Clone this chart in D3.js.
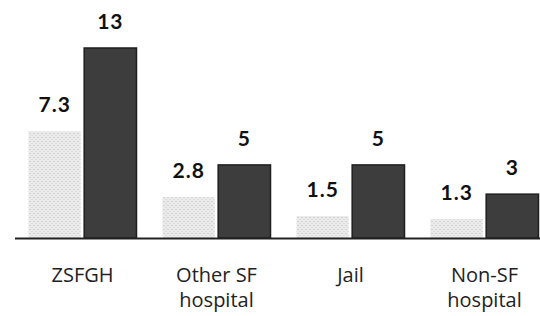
<!DOCTYPE html>
<html><head><meta charset="utf-8">
<script src="https://cdn.jsdelivr.net/npm/d3@7"></script>
<style>body{margin:0;background:#fff}svg{display:block}</style>
</head><body>
<svg id="c" width="540" height="316"></svg>
<script>
const categories = ["ZSFGH", "Other SF|hospital", "Jail", "Non-SF|hospital"];
const seriesNames = ["before", "after"];
const seriesA = [7.3, 2.8, 1.5, 1.3];
const seriesB = [13, 5, 5, 3];
const labelsA = ["7.3", "2.8", "1.5", "1.3"];
const labelsB = ["13", "5", "5", "3"];

const svg = d3.select("#c");
const baseY = 238;
const x0 = d3.scaleBand().domain(categories).range([15.5, 551.5]).paddingInner(0.194).paddingOuter(0.097);
const x1 = d3.scaleBand().domain(seriesNames).range([0, x0.bandwidth()]).paddingInner(0.06);
const y = d3.scaleLinear().domain([0, 13]).range([baseY, 48]);

const defs = svg.append("defs");
const pat = defs.append("pattern").attr("id","lt").attr("patternUnits","userSpaceOnUse").attr("width",4).attr("height",4);
pat.append("rect").attr("width",4).attr("height",4).attr("fill","#ebebeb");
pat.append("rect").attr("x",1).attr("y",1).attr("width",1).attr("height",1).attr("fill","#b8b8b8");
pat.append("rect").attr("x",3).attr("y",3).attr("width",1).attr("height",1).attr("fill","#cccccc");

const fills = {before: "url(#lt)", after: "#3d3d3d"};
const strokes = {before: "none", after: "#1e1e1e"};

const data = categories.map((c, i) => ({c, vals: [
  {s: "before", v: seriesA[i], l: labelsA[i]},
  {s: "after", v: seriesB[i], l: labelsB[i]}]}));

const g = svg.selectAll("g.grp").data(data).join("g").attr("class","grp")
  .attr("transform", d => `translate(${x0(d.c)},0)`);

g.selectAll("rect").data(d => d.vals).join("rect")
  .attr("x", d => x1(d.s)).attr("width", x1.bandwidth())
  .attr("y", d => y(d.v)).attr("height", d => baseY - y(d.v))
  .attr("fill", d => fills[d.s]).attr("stroke", d => strokes[d.s]).attr("stroke-width", 1.5);

g.selectAll("text.val").data(d => d.vals).join("text").attr("class","val")
  .attr("x", d => x1(d.s) + x1.bandwidth()/2).attr("y", d => y(d.v) - 19)
  .attr("text-anchor","middle").attr("font-family","Lato, 'Open Sans', sans-serif")
  .attr("font-weight","bold").attr("font-size",21).attr("letter-spacing",1).attr("fill","#111")
  .text(d => d.l);

svg.append("line").attr("x1",15).attr("x2",540).attr("y1",baseY+0.5).attr("y2",baseY+0.5)
  .attr("stroke","#222").attr("stroke-width",2);

const xAxis = d3.axisBottom(x0).tickSize(0).tickFormat("");
const ax = svg.append("g").attr("transform",`translate(0,${baseY})`).call(xAxis);
ax.select(".domain").remove();
ax.selectAll(".tick").each(function(d){
  const t = d3.select(this).append("text").attr("text-anchor","middle")
    .attr("font-family","'Open Sans', sans-serif").attr("font-size",20).attr("fill","#222");
  d.split("|").forEach((line, k) => t.append("tspan").attr("x",0).attr("y", 44 + k*25).text(line));
});
</script>
</body></html>
